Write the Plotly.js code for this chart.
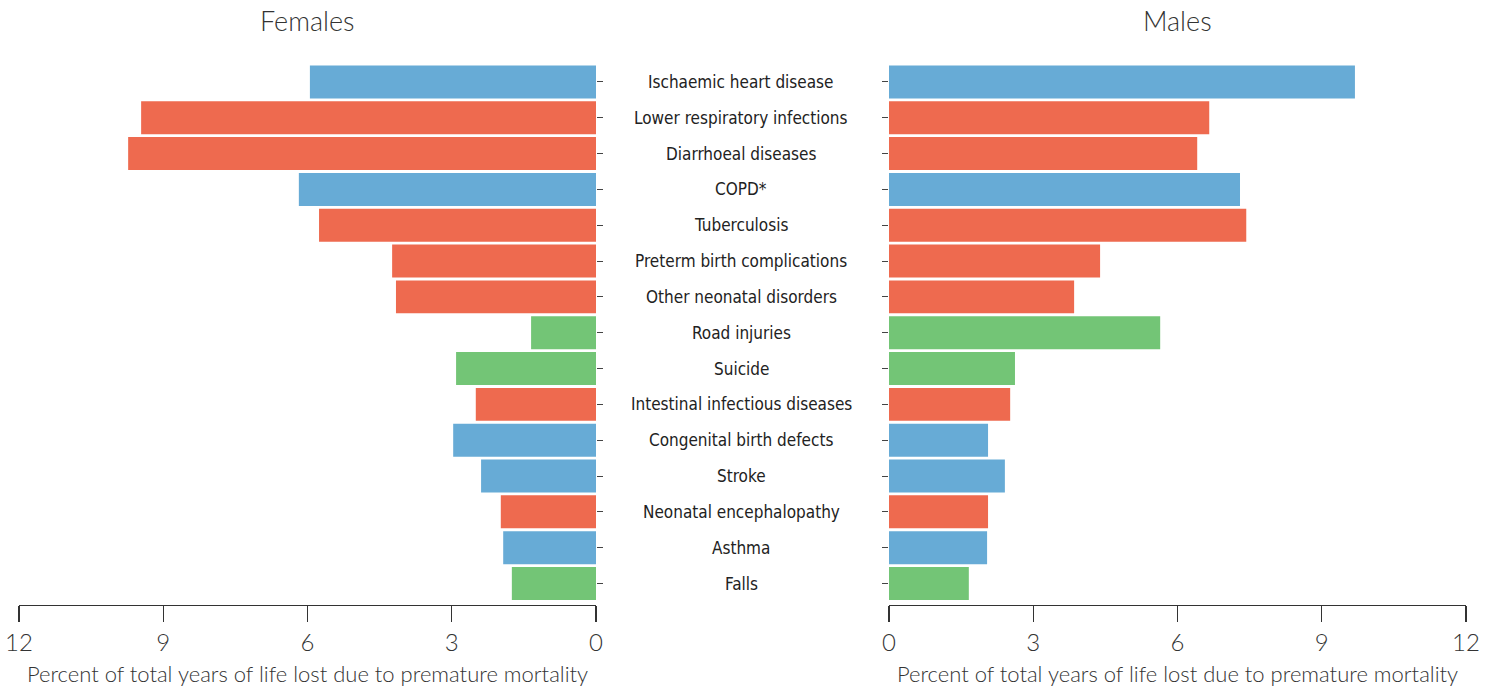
<!DOCTYPE html>
<html><head><meta charset="utf-8">
<script src="https://cdn.plot.ly/plotly-3.0.1.min.js"></script>
<style>html,body{margin:0;padding:0;background:#fff}#chart{width:1499px;height:690px}</style>
</head><body><div id="chart"></div>
<script>
const categories = ["Ischaemic heart disease","Lower respiratory infections","Diarrhoeal diseases","COPD*","Tuberculosis","Preterm birth complications","Other neonatal disorders","Road injuries","Suicide","Intestinal infectious diseases","Congenital birth defects","Stroke","Neonatal encephalopathy","Asthma","Falls"];
const females = [5.95,9.46,9.73,6.18,5.76,4.24,4.16,1.35,2.91,2.50,2.97,2.39,1.98,1.93,1.75];
const males = [9.69,6.66,6.41,7.30,7.43,4.39,3.85,5.64,2.62,2.52,2.06,2.41,2.06,2.04,1.66];
const groups = ["ncd","comm","comm","ncd","comm","comm","comm","inj","inj","comm","ncd","ncd","comm","ncd","inj"];
const groupColors = {ncd:"#67abd6", comm:"#ee6a4f", inj:"#73c576"};
const axisTitle = "Percent of total years of life lost due to premature mortality";
const tickVals = [0,3,6,9,12];

const colors = groups.map(g => groupColors[g]);
const fam = "Lato, 'Open Sans', sans-serif";
const axisFont = {family:fam, size:24, color:"#333", weight:300};
const titleFont = {family:fam, size:22, color:"#333", weight:300};

const data = [
  {type:"bar", orientation:"h", x:females, y:categories, xaxis:"x", yaxis:"y", marker:{color:colors}, hoverinfo:"x+y"},
  {type:"bar", orientation:"h", x:males, y:categories, xaxis:"x2", yaxis:"y2", marker:{color:colors}, hoverinfo:"x+y"}
];
const yCommon = {type:"category", range:[14.6,-0.5], ticks:"outside", ticklen:6, tickcolor:"#444", showticklabels:false, showline:false, showgrid:false, zeroline:false};
const xCommon = {range:[0,12], tickvals:tickVals, ticks:"outside", ticklen:16, tickcolor:"#333", tickwidth:1.2, showline:true, linecolor:"#333", linewidth:1.2, showgrid:false, zeroline:false, tickfont:axisFont, title:{text:axisTitle, font:titleFont, standoff:11}};
const layout = {
  width:1499, height:690,
  margin:{l:0, r:0, t:63.5, b:85},
  paper_bgcolor:"#fff", plot_bgcolor:"#fff",
  showlegend:false, bargap:0.08,
  xaxis: Object.assign({}, xCommon, {domain:[19/1499, 596/1499], range:[12,0], anchor:"y"}),
  yaxis: Object.assign({}, yCommon, {side:"right", anchor:"x"}),
  xaxis2: Object.assign({}, xCommon, {domain:[889/1499, 1466/1499], anchor:"y2"}),
  yaxis2: Object.assign({}, yCommon, {side:"left", anchor:"x2"}),
  annotations: [
    {text:"Females", xref:"paper", yref:"paper", x:307.5/1499, y:1, yshift:44, showarrow:false, xanchor:"center", yanchor:"middle", font:{family:fam, size:27, color:"#333", weight:300}},
    {text:"Males", xref:"paper", yref:"paper", x:1177.5/1499, y:1, yshift:44, showarrow:false, xanchor:"center", yanchor:"middle", font:{family:fam, size:27, color:"#333", weight:300}}
  ].concat(categories.map(c => ({text:c, xref:"paper", yref:"y", x:741/1499, y:c, showarrow:false, xanchor:"center", yanchor:"middle", font:{family:"'Liberation Sans Narrow', 'DejaVu Sans Condensed', sans-serif", size:17, color:"#222"}})))
};
Plotly.newPlot("chart", data, layout, {displayModeBar:false, staticPlot:true});
</script></body></html>
